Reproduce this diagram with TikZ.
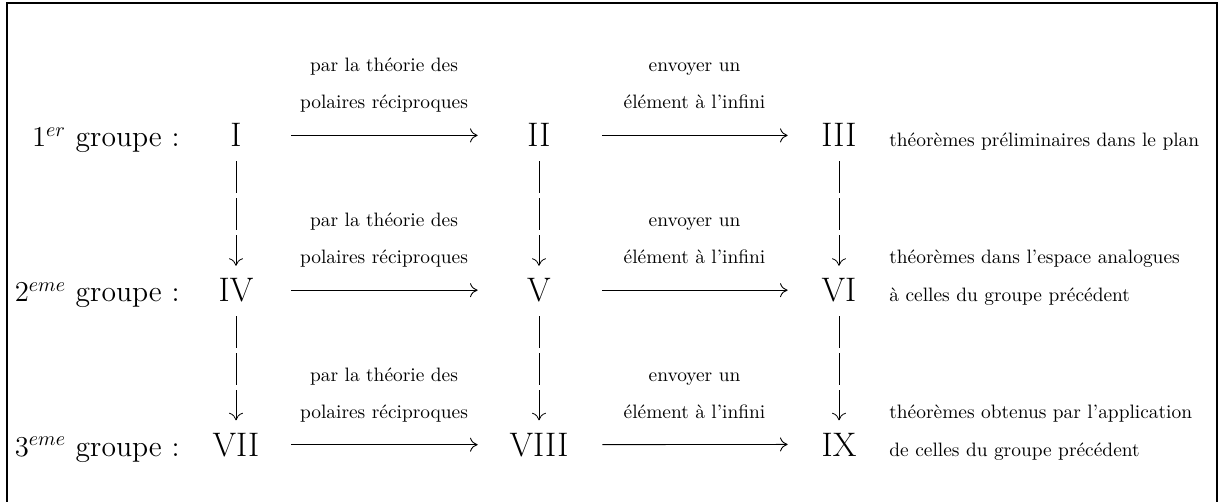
\documentclass[tikz,border=0pt]{standalone}
\usepackage{amsmath,amssymb}
\usetikzlibrary{arrows.meta}
\begin{document}
\begin{tikzpicture}[x=0.5pt,y=-0.5pt]
	\tikzstyle{num}=[inner sep=0pt, anchor=base, minimum width=30pt, font=\fontsize{17}{20}\selectfont]
	\tikzstyle{grp}=[inner sep=0pt, anchor=base east, font=\fontsize{14.8}{18}\selectfont]
	\tikzstyle{lab}=[inner sep=0pt, anchor=base, font=\fontsize{9.7}{12}\selectfont]
	\tikzstyle{txt}=[inner sep=0pt, anchor=base west, font=\fontsize{9.7}{12}\selectfont]
	\tikzstyle{h}=[line width=0.45pt, -{To[length=3.8pt,width=7pt]}]
	\tikzstyle{v}=[line width=0.4pt, -{To[length=3.8pt,width=7pt]}, dash pattern=on 16pt off 2.5pt, shorten <=7pt, shorten >=6pt]

	\useasboundingbox (0,0) rectangle (1219,502);
	\draw[line width=0.7pt] (7,520) -- (7,3) -- (1217,3) -- (1217,520);

	% groupes
	\node[grp] (grp1) at (180,147) {$1^{er}$ groupe :};
	\node[grp] (grp2) at (180,301.5) {$2^{eme}$ groupe :};
	\node[grp] (grp3) at (180,456) {$3^{eme}$ groupe :};

	\node[num] (g1) at (236,147) {I};
	\node[num] (g2) at (539,147) {II};
	\node[num] (g3) at (839,147) {III};
	\node[num] (g4) at (236,301.5) {IV};
	\node[num] (g5) at (539,301.5) {V};
	\node[num] (g6) at (839,301.5) {VI};
	\node[num] (g7) at (236,456) {VII};
	\node[num] (g8) at (539,456) {VIII};
	\node[num] (g9) at (839,456) {IX};

	% etiquettes des fleches
	\foreach \y/\k in {147/1,301.5/2,456/3} {
		\node[lab] (pol\k a) at (384,\y-75) {par la théorie des};
		\node[lab] (pol\k b) at (384,\y-38) {polaires réciproques};
		\node[lab] (inf\k a) at (694.5,\y-75) {envoyer un};
		\node[lab] (inf\k b) at (694.5,\y-38) {élément à l’infini};
	}

	\node[txt] (th1) at (889,147) {théorèmes préliminaires dans le plan};
	\node[txt] (th2a) at (889,263.5) {théorèmes dans l’espace analogues};
	\node[txt] (th2b) at (889,301.5) {à celles du groupe précédent};
	\node[txt] (th3a) at (889,418) {théorèmes obtenus par l’application};
	\node[txt] (th3b) at (889,456) {de celles du groupe précédent};

	\foreach \from/\to/\sa/\sb in {g1/g2/12.5/15.5,g2/g3/16.5/10.5,g4/g5/12.5/15.5,g5/g6/16.5/10.5,g7/g8/12.5/15.5,g8/g9/16.5/10.5}
	\draw [h, shorten <=\sa pt, shorten >=\sb pt] (\from) -- (\to);

	\foreach \from/\to in {g1/g4,g2/g5,g3/g6,g4/g7,g5/g8,g6/g9}
	\draw [v] (\from) -- (\to);
\end{tikzpicture}
\end{document}
